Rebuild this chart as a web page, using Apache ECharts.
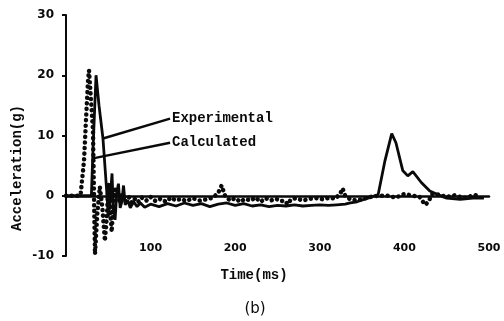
<!DOCTYPE html>
<html>
<head>
<meta charset="utf-8">
<script src="https://cdn.jsdelivr.net/npm/echarts@6/dist/echarts.min.js"></script>
<style>
	html, body { margin: 0; padding: 0; background: #fff; }
	#accel { width: 504px; height: 321px; }
</style>
</head>
<body>
<div id="accel"></div>
<script>
// Experimental (solid) : time ms / acceleration g
var expTime = [0, 30, 32, 35.5, 39, 43.7, 48.5, 50, 52, 54.4, 56, 58, 60, 62, 64, 66, 68, 70, 73, 76, 80, 84, 88, 93,
	100, 110, 120, 130, 140, 150, 160, 170, 180, 190, 200, 210, 220, 230, 240, 250, 260, 270, 280, 290, 300,
	310, 320, 330, 336, 344, 352, 359, 365, 369, 371, 377, 385, 390, 398, 404, 410, 420, 430, 438, 450, 466, 481, 494];
var expAcc = [0, 0, 8, 20, 15, 9.5, 0, -3.5, -1, 3.7, -2.5, -4, 0.5, 2, -2, -1, 1.7, -1.5, -0.8, -2, -1, -1.8, -1.2, -1.9,
	-1.4, -1.8, -1.3, -1.7, -1.2, -1.6, -1.3, -1.8, -1.4, -1.2, -1.6, -1.3, -1.7, -1.5, -1.8, -1.6, -1.7, -1.5, -1.7, -1.6, -1.5,
	-1.6, -1.5, -1.4, -1.2, -1, -0.6, -0.3, 0, 0.2, 0.5, 5.8, 10.3, 8.8, 4.2, 3.3, 4, 2.2, 0.8, 0.3, -0.4, -0.6, -0.4, -0.4];

// Calculated (dotted)
var calcTime = [0, 16, 17.5, 21.3, 23.6, 26, 27.2, 29, 31.9, 33.1, 34.3, 37, 40, 43, 46, 48.5, 50, 52, 54, 56, 58,
	60, 63, 66, 70, 74, 78, 82, 86, 90, 95, 100, 106, 112, 118, 124, 130, 136, 142, 150, 158, 166, 174, 180, 184, 188,
	194, 200, 206, 212, 218, 224, 230, 236, 242, 248, 254, 258, 262, 266, 272, 280, 288, 296, 304, 312, 318, 324, 327,
	330, 336, 344, 352, 360, 368, 380, 390, 400, 410, 418, 422, 425, 429, 433, 440, 450, 460, 470, 480, 490];
var calcAcc = [0, 0, 0.5, 5.8, 12.5, 19, 20.8, 17, 10.8, 0, -9.7, -3, 1.5, -2, -7.5, -3, 2, -2, -6, -1, 1,
	0.5, -0.8, 0.3, -1, -0.2, -1.2, -0.4, -1, -0.3, -0.8, -0.2, -0.9, -0.5, -1, -0.3, -0.8, -0.5, -0.9, -0.4, -0.8, -0.6, -0.3, 0.5, 1.7, 0,
	-0.8, -0.4, -1, -0.5, -0.8, -0.3, -1, -0.4, -0.8, -0.5, -0.9, -0.8, -1.4, -0.6, -0.4, -0.8, -0.5, -0.4, -0.6, -0.3, -0.5, 0.3, 1.2,
	0, -0.6, -0.8, -0.5, -0.2, 0, 0, -0.3, 0.3, 0, -0.2, -1, -1.5, -0.8, 0.3, 0.2, -0.2, 0.1, -0.4, 0, 0.2];

var xTicks = [100, 200, 300, 400, 500];
var yTicks = [-10, 0, 10, 20, 30];

// leader lines : [from(on curve), to(text end)] in data units
var expLeader = [[43.7, 9.5], [123, 12.8]];
var calcLeader = [[31.9, 6.2], [123, 8.8]];

function pairs(xs, ys) {
	return xs.map(function(x, i) { return [x, ys[i]]; });
}

var ink = '#0a0a0a';
var mono = '"Liberation Mono", "DejaVu Sans Mono", monospace';

var chart = echarts.init(document.getElementById('accel'), null, { width: 504, height: 321 });

var option = {
	backgroundColor: '#fff',
	animation: false,
	grid: { left: 66, right: 15, top: 15, bottom: 65, containLabel: false },
	xAxis: {
		type: 'value',
		min: 0,
		max: 500,
		interval: 100,
		axisLine: { onZero: true, lineStyle: { color: ink, width: 2.5 } },
		axisTick: { show: false },
		splitLine: { show: false },
		axisLabel: {
			margin: -13,
			color: ink,
			fontFamily: 'DejaVu Sans',
			fontWeight: 'bold',
			fontSize: 11,
			formatter: function(v) { return xTicks.indexOf(v) >= 0 ? String(v) : ''; }
		}
	},
	yAxis: {
		type: 'value',
		min: -10,
		max: 30,
		interval: 10,
		axisLine: { show: true, onZero: false, lineStyle: { color: ink, width: 2 } },
		axisTick: { show: true, length: 4, lineStyle: { color: ink, width: 2 } },
		splitLine: { show: false },
		axisLabel: {
			margin: 12,
			color: ink,
			fontFamily: 'DejaVu Sans',
			fontWeight: 'bold',
			fontSize: 12,
			formatter: function(v) { return yTicks.indexOf(v) >= 0 ? String(v) : ''; }
		}
	},
	series: [
		{
			name: 'Calculated',
			type: 'line',
			showSymbol: false,
			data: pairs(calcTime, calcAcc),
			lineStyle: { color: ink, width: 4.5, type: [0.1, 5.5], cap: 'round' },
			markLine: {
				silent: true,
				symbol: 'none',
				lineStyle: { color: ink, width: 2.4, type: 'solid' },
				label: { show: true, position: 'end', distance: 2, formatter: 'Calculated',
					color: ink, fontFamily: mono, fontWeight: 'bold', fontSize: 14 },
				data: [[{ coord: calcLeader[0] }, { coord: calcLeader[1] }]]
			}
		},
		{
			name: 'Experimental',
			type: 'line',
			showSymbol: false,
			data: pairs(expTime, expAcc),
			lineStyle: { color: ink, width: 2.8 },
			markLine: {
				silent: true,
				symbol: 'none',
				lineStyle: { color: ink, width: 2.4, type: 'solid' },
				label: { show: true, position: 'end', distance: 2, formatter: 'Experimental',
					color: ink, fontFamily: mono, fontWeight: 'bold', fontSize: 14 },
				data: [[{ coord: expLeader[0] }, { coord: expLeader[1] }]]
			}
		}
	],
	graphic: [
		{   // y axis name
			type: 'text',
			x: 17, y: 168,
			rotation: Math.PI / 2,
			style: { text: 'Acceleration(g)', font: 'bold 14px ' + mono, fill: ink, align: 'center', verticalAlign: 'middle' }
		},
		{   // x axis name
			type: 'text',
			x: 254, y: 275,
			style: { text: 'Time(ms)', font: 'bold 14px ' + mono, fill: ink, align: 'center', verticalAlign: 'middle' }
		},
		{
			type: 'text',
			x: 255, y: 309,
			style: { text: '(b)', font: '15px "DejaVu Sans"', fill: ink, align: 'center', verticalAlign: 'middle' }
		}
	]
};

chart.setOption(option);
</script>
</body>
</html>
